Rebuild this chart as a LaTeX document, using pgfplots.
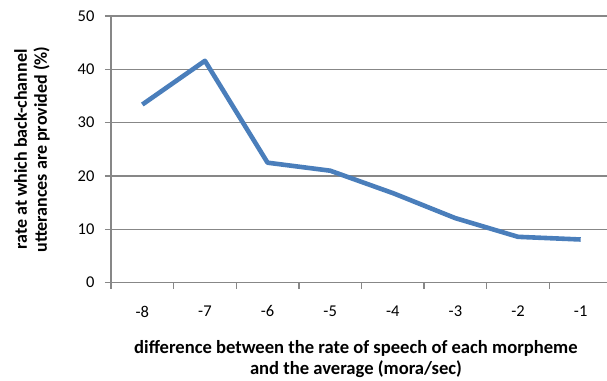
\documentclass[border=0pt]{standalone}
\usepackage{pgfplots}
\pgfplotsset{compat=1.18}
\usepackage{fontspec}
\setmainfont{Carlito}
\definecolor{axgray}{HTML}{878787}
\definecolor{lineblue}{HTML}{4A7EBB}
\begin{document}
\begin{tikzpicture}[x=1pt,y=1pt]
\begin{axis}[
  scale only axis, width=501pt, height=266.7pt,
  at={(0,0)}, anchor=south west,
  xmin=-8.5, xmax=-0.5, ymin=0, ymax=50,
  ytick={0,10,...,50},
  xtick={-8,...,-1},
  xticklabels={-8,-7,-6,-5,-4,-3,-2,-1},
  minor xtick={-8.5,-7.5,...,-0.5},
  major x tick style={draw=none},
  tick align=outside,
  axis x line*=bottom, axis y line*=left,
  axis line style={draw=axgray, line width=1.3pt, -},
  ymajorgrids, grid style={axgray, line width=1.3pt},
  tick style={axgray, line width=1.3pt},
  major tick length=6pt, minor tick length=6pt,
  ticklabel style={font=\fontsize{16.5}{18}\selectfont, text=black},
  /pgf/number format/assume math mode=true,
  xticklabel style={yshift=-13.5pt},
  yticklabel style={xshift=-7pt},
  clip=false,
]
\addplot[lineblue, line width=4.6pt, line join=round] coordinates {
  (-8,33.4) (-7,41.6) (-6,22.5) (-5,21.0) (-4,16.8) (-3,12.1) (-2,8.6) (-1,8.1)
};
\end{axis}
\node[font=\bfseries\fontsize{18.6}{21}\selectfont, align=center] at (245,-76.8)
  {difference between the rate of speech of each morpheme\\and the average (mora/sec)};
\node[font=\bfseries\fontsize{18}{20}\selectfont, align=center, rotate=90] at (-79,133.2)
  {rate at which back-channel\\utterances are provided (\%)};
\pgfresetboundingbox
\path[use as bounding box] (-111,-97.3) rectangle (496,282.7);
\end{tikzpicture}
\end{document}
